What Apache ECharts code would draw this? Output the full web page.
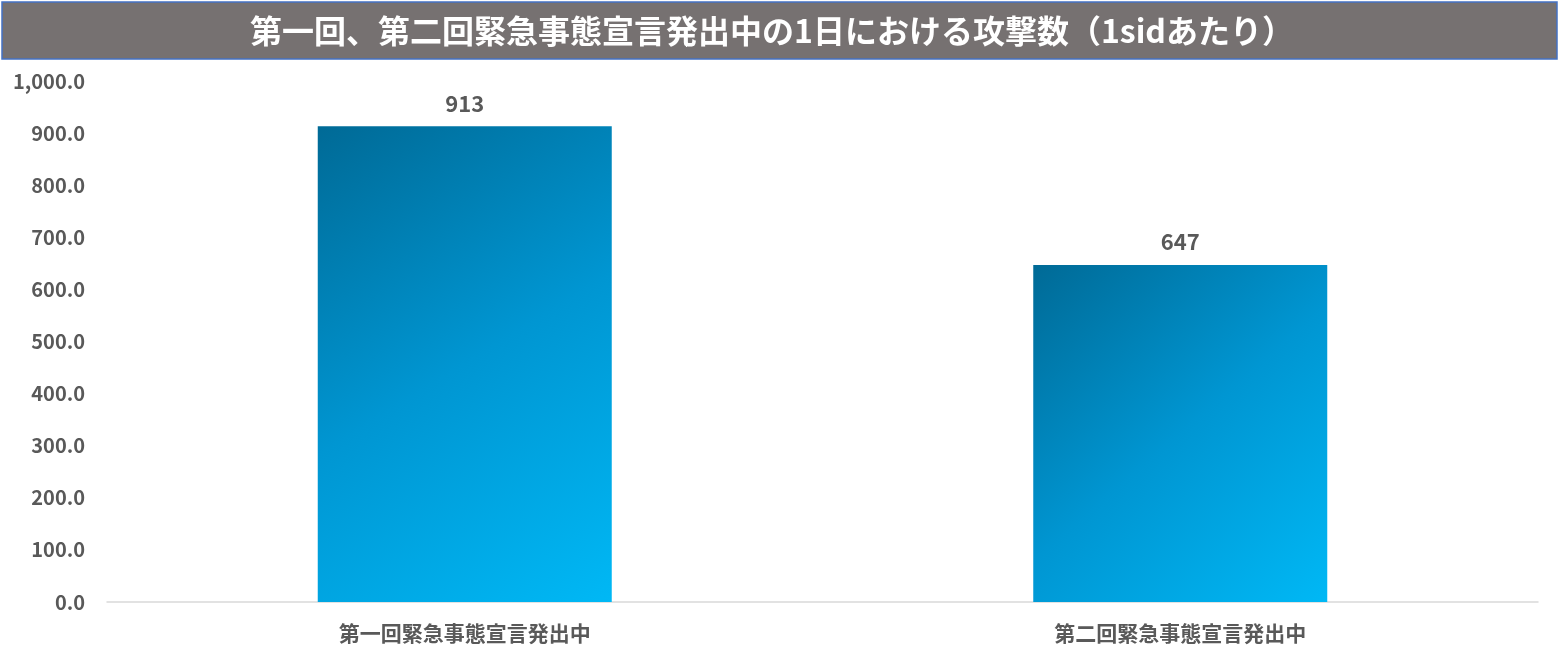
<!DOCTYPE html>
<html><head><meta charset="utf-8">
<script src="https://cdn.jsdelivr.net/npm/echarts@6/dist/echarts.min.js"></script>
<style>html,body{margin:0;padding:0;background:#fff}#c{width:1560px;height:664px}</style>
</head><body><div id="c"></div>
<script>
const titleText = '第一回、第二回緊急事態宣言発出中の1日における攻撃数（1sidあたり）';
const categories = ['第一回緊急事態宣言発出中', '第二回緊急事態宣言発出中'];
const values = [913, 647];
const yTicks = [0, 100, 200, 300, 400, 500, 600, 700, 800, 900, 1000];

const font = '"Noto Sans CJK JP", "Noto Sans", sans-serif';
const chart = echarts.init(document.getElementById('c'));
chart.setOption({
  animation: false,
  graphic: [
    { type: 'rect', shape: { x: 2, y: 2, width: 1555, height: 57 },
      style: { fill: '#767171', stroke: '#4472C4', lineWidth: 1.5 }, z: 0 },
    { type: 'text', x: 772, y: 31,
      style: { text: titleText, fill: '#ffffff', font: 'bold 32px ' + font,
               textAlign: 'center', textVerticalAlign: 'middle' }, z: 1 }
  ],
  grid: { left: 107, right: 22, top: 81, bottom: 62 },
  xAxis: {
    type: 'category', data: categories,
    axisLine: { lineStyle: { color: '#d9d9d9', width: 1.5 } },
    axisTick: { show: false },
    axisLabel: { color: '#595959', fontSize: 21, fontWeight: 'bold', fontFamily: font, margin: 21 }
  },
  yAxis: {
    type: 'value', min: yTicks[0], max: yTicks[yTicks.length - 1], interval: 100,
    splitLine: { show: false }, axisLine: { show: false }, axisTick: { show: false },
    axisLabel: { color: '#595959', fontSize: 20, fontWeight: 'bold', fontFamily: font, margin: 22,
      formatter: v => v.toLocaleString('en-US', { minimumFractionDigits: 1, maximumFractionDigits: 1 }) }
  },
  series: [{
    type: 'bar', data: values, barWidth: 294,
    itemStyle: {
      color: new echarts.graphic.LinearGradient(0, 0, 1, 1, [
        { offset: 0, color: '#006A96' },
        { offset: 0.5, color: '#0096D2' },
        { offset: 1, color: '#00B8F5' }
      ])
    },
    label: { show: true, position: 'top', distance: 12, color: '#595959', fontSize: 22,
             fontWeight: 'bold', fontFamily: font }
  }]
});
</script></body></html>
